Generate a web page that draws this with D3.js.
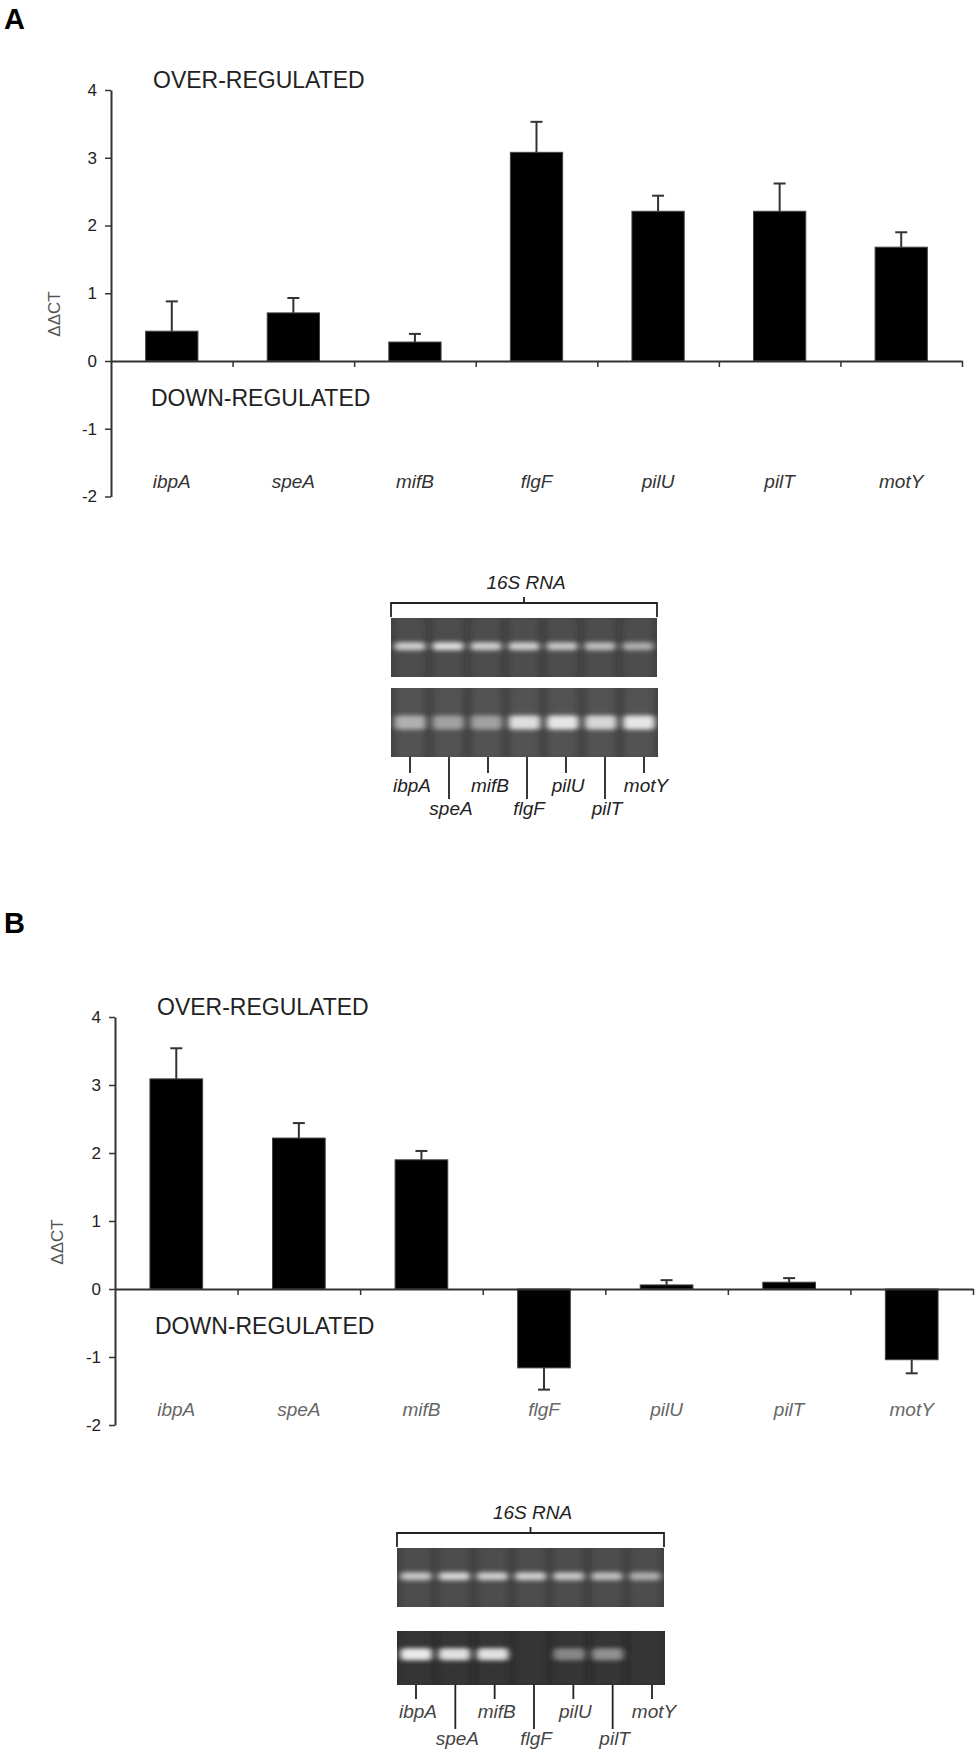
<!DOCTYPE html>
<html>
<head>
<meta charset="utf-8">
<script src="https://cdn.jsdelivr.net/npm/d3@7.9.0/dist/d3.min.js"></script>
<style>
  body { margin: 0; background: #fff; }
  svg { display: block; font-family: "Liberation Sans", Arial, sans-serif; }
</style>
</head>
<body>
<div id="fig"></div>
<script>
// genes and axis ticks
const genes = ['ibpA', 'speA', 'mifB', 'flgF', 'pilU', 'pilT', 'motY'];
const yTicks = [-2, -1, 0, 1, 2, 3, 4];

// panel A: ddCT means and error (SD)
const ddctA = [0.44, 0.71, 0.28, 3.08, 2.21, 2.21, 1.68];
const errA  = [0.44, 0.22, 0.12, 0.45, 0.23, 0.41, 0.22];

// panel B
const ddctB = [3.09, 2.22, 1.90, -1.16, 0.06, 0.10, -1.04];
const errB  = [0.45, 0.22, 0.13, 0.32, 0.07, 0.06, 0.20];

// gel band intensities (0 = no band)
const gelA16S    = [0.80, 0.90, 0.80, 0.80, 0.75, 0.70, 0.60];
const gelATarget = [0.60, 0.50, 0.50, 0.90, 0.95, 0.85, 0.95];
const gelB16S    = [0.75, 0.85, 0.80, 0.80, 0.75, 0.70, 0.60];
const gelBTarget = [1.00, 0.95, 0.95, 0.00, 0.45, 0.50, 0.00];

const svg = d3.select('#fig').append('svg')
  .attr('width', 980)
  .attr('height', 1760);

const defs = svg.append('defs');
defs.append('filter').attr('id', 'blurBand')
  .attr('x', '-30%').attr('y', '-150%').attr('width', '160%').attr('height', '400%')
  .append('feGaussianBlur').attr('stdDeviation', '3 2.2');
defs.append('filter').attr('id', 'blurLane')
  .attr('x', '-30%').attr('y', '-10%').attr('width', '160%').attr('height', '120%')
  .append('feGaussianBlur').attr('stdDeviation', 3.5);

function drawChart(cfg) {
  const g = svg.append('g');
  const { left, right, yTop, yBottom, values, errors, labelColor } = cfg;

  const y = d3.scaleLinear().domain([-2, 4]).range([yBottom, yTop]);
  const x = d3.scaleBand().domain(genes).range([left, right])
    .paddingInner(0.57).paddingOuter(0.285);
  const xi = d3.scaleLinear().domain([0, genes.length]).range([left, right]);
  const rows = genes.map((gene, i) => ({ gene, v: values[i], e: errors[i] }));

  // panel letter
  g.append('text')
    .attr('x', 4).attr('y', cfg.letterY)
    .attr('font-size', 29).attr('font-weight', 'bold')
    .attr('fill', '#000')
    .text(cfg.letter);

  // error bars (drawn first, bar covers the base)
  const eb = g.append('g').attr('stroke', '#333').attr('stroke-width', 2);
  rows.forEach(d => {
    const cx = x(d.gene) + x.bandwidth() / 2;
    const end = d.v >= 0 ? d.v + d.e : d.v - d.e;
    eb.append('line')
      .attr('x1', cx).attr('x2', cx)
      .attr('y1', y(d.v)).attr('y2', y(end));
    eb.append('line')
      .attr('x1', cx - 6).attr('x2', cx + 6)
      .attr('y1', y(end)).attr('y2', y(end));
  });

  // bars
  g.append('g').selectAll('rect')
    .data(rows)
    .join('rect')
    .attr('x', d => x(d.gene))
    .attr('width', x.bandwidth())
    .attr('y', d => y(Math.max(0, d.v)))
    .attr('height', d => Math.abs(y(d.v) - y(0)))
    .attr('fill', '#000')
    .attr('stroke', '#444')
    .attr('stroke-width', 1);

  // y axis
  const yAxis = g.append('g')
    .attr('transform', `translate(${left},0)`)
    .call(d3.axisLeft(y).tickValues(yTicks).tickSize(6).tickSizeOuter(0)
      .tickPadding(8).tickFormat(d => String(d)));
  yAxis.select('.domain').attr('stroke', '#333').attr('stroke-width', 2);
  yAxis.selectAll('.tick line').attr('stroke', '#333').attr('stroke-width', 1.5);
  yAxis.selectAll('.tick text')
    .attr('font-size', 17).attr('fill', '#222')
    .attr('font-family', '"Liberation Sans", Arial, sans-serif');

  // x axis at zero
  const xAxis = g.append('g')
    .attr('transform', `translate(0,${y(0)})`)
    .call(d3.axisBottom(xi).tickValues(d3.range(1, genes.length + 1))
      .tickSize(6).tickSizeOuter(0).tickFormat(''));
  xAxis.select('.domain').attr('stroke', '#333').attr('stroke-width', 2);
  xAxis.selectAll('.tick line').attr('stroke', '#333').attr('stroke-width', 1.5);

  // y label
  g.append('text')
    .attr('transform', `translate(${cfg.ylabelX},${y(0) - 47}) rotate(-90)`)
    .attr('text-anchor', 'middle')
    .attr('font-size', 17)
    .attr('fill', '#555')
    .text('ΔΔCT');

  // region captions
  g.append('text')
    .attr('x', left + 42).attr('y', y(4) - 2)
    .attr('font-size', 23).attr('fill', '#222')
    .text('OVER-REGULATED');
  g.append('text')
    .attr('x', left + 40).attr('y', y(0) + 45)
    .attr('font-size', 23).attr('fill', '#222')
    .text('DOWN-REGULATED');

  // gene names
  g.append('g').selectAll('text')
    .data(genes)
    .join('text')
    .attr('x', d => x(d) + x.bandwidth() / 2)
    .attr('y', y(0) + 127)
    .attr('text-anchor', 'middle')
    .attr('font-size', 19)
    .attr('font-style', 'italic')
    .attr('fill', labelColor)
    .text(d => d);
}

function drawStrip(g, x0, x1, top, bottom, bg, laneFill, intensities, bandY, bandH) {
  const lane = d3.scaleBand().domain(genes).range([x0, x1]).paddingInner(0.12).paddingOuter(0.06);
  g.append('rect')
    .attr('x', x0).attr('y', top)
    .attr('width', x1 - x0).attr('height', bottom - top)
    .attr('fill', bg);
  const clipId = 'clip' + Math.round(top);
  defs.append('clipPath').attr('id', clipId)
    .append('rect').attr('x', x0).attr('y', top)
    .attr('width', x1 - x0).attr('height', bottom - top);
  const inner = g.append('g').attr('clip-path', `url(#${clipId})`);
  inner.selectAll('rect.lane')
    .data(genes)
    .join('rect')
    .attr('class', 'lane')
    .attr('x', d => lane(d) + 2)
    .attr('y', top - 4)
    .attr('width', lane.bandwidth() - 4)
    .attr('height', bottom - top + 8)
    .attr('fill', laneFill)
    .attr('filter', 'url(#blurLane)');
  inner.selectAll('rect.band')
    .data(genes.map((gene, i) => ({ gene, v: intensities[i] })).filter(d => d.v > 0))
    .join('rect')
    .attr('class', 'band')
    .attr('x', d => lane(d.gene) + 1)
    .attr('y', bandY - bandH / 2)
    .attr('width', lane.bandwidth() - 2)
    .attr('height', bandH)
    .attr('rx', 4)
    .attr('fill', '#fff')
    .attr('opacity', d => d.v * 0.9)
    .attr('filter', 'url(#blurBand)');
}

function drawGel(cfg) {
  const g = svg.append('g');
  const { x0, x1, bracketY, strip1, strip2, labelX0, labelX1, textColor } = cfg;

  // 16S RNA bracket
  g.append('text')
    .attr('x', (x0 + x1) / 2 + 2).attr('y', bracketY - 14)
    .attr('text-anchor', 'middle')
    .attr('font-size', 19).attr('font-style', 'italic')
    .attr('fill', '#222')
    .text('16S RNA');
  g.append('path')
    .attr('d', `M${x0},${strip1[0] - 1}V${bracketY}H${x1}V${strip1[0] - 1}` +
      `M${(x0 + x1) / 2},${bracketY}V${bracketY - 6}`)
    .attr('fill', 'none').attr('stroke', '#222').attr('stroke-width', 1.8);

  drawStrip(g, x0, x1, strip1[0], strip1[1], '#404040', '#4d4d4d', cfg.top,
    strip1[0] + (strip1[1] - strip1[0]) * 0.48, 8);
  drawStrip(g, x0, x1 + 1, strip2[0], strip2[1], cfg.bg2, cfg.lane2, cfg.bottom,
    strip2[0] + (strip2[1] - strip2[0]) * cfg.band2Pos, cfg.band2H);

  // lane labels
  const lx = d3.scalePoint().domain(genes).range([labelX0, labelX1]);
  const lbl = g.append('g');
  genes.forEach((gene, i) => {
    const longer = i % 2 === 1;
    const len = longer ? cfg.longLen : cfg.shortLen;
    lbl.append('line')
      .attr('x1', lx(gene)).attr('x2', lx(gene))
      .attr('y1', strip2[1]).attr('y2', strip2[1] + len)
      .attr('stroke', '#222').attr('stroke-width', 1.8);
    lbl.append('text')
      .attr('x', lx(gene) + 2)
      .attr('y', strip2[1] + len + (longer ? 16 : 19))
      .attr('text-anchor', 'middle')
      .attr('font-size', 19).attr('font-style', 'italic')
      .attr('fill', textColor)
      .text(gene);
  });
}

drawChart({
  letter: 'A', letterY: 29,
  left: 111, right: 962, yTop: 90, yBottom: 496.5,
  values: ddctA, errors: errA, labelColor: '#333', ylabelX: 60
});

drawGel({
  x0: 391, x1: 657, bracketY: 603,
  strip1: [618, 677], strip2: [688, 757],
  top: gelA16S, bottom: gelATarget,
  bg2: '#424242', lane2: '#535353', band2Pos: 0.5, band2H: 14,
  labelX0: 410, labelX1: 644, shortLen: 16, longLen: 42, textColor: '#222'
});

drawChart({
  letter: 'B', letterY: 933,
  left: 115, right: 973, yTop: 1017, yBottom: 1425,
  values: ddctB, errors: errB, labelColor: '#666', ylabelX: 63
});

drawGel({
  x0: 397, x1: 664, bracketY: 1533,
  strip1: [1548, 1607], strip2: [1631, 1685],
  top: gelB16S, bottom: gelBTarget,
  bg2: '#2e2e2e', lane2: '#363636', band2Pos: 0.43, band2H: 12,
  labelX0: 416, labelX1: 652, shortLen: 14, longLen: 44, textColor: '#444'
});
</script>
</body>
</html>
